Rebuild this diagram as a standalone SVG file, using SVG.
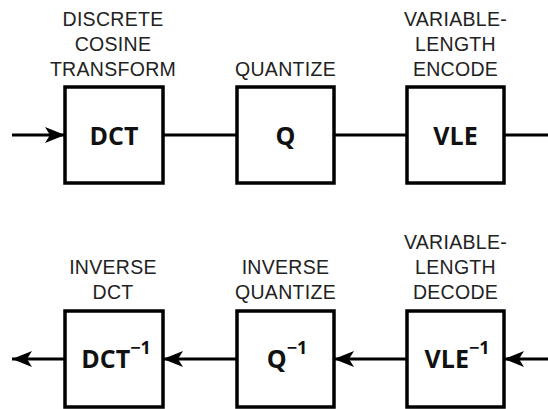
<svg xmlns="http://www.w3.org/2000/svg" width="548" height="409" viewBox="0 0 548 409">
<defs>
<marker id="ah" viewBox="0 0 20 16" refX="20" refY="8" markerWidth="20" markerHeight="16" markerUnits="userSpaceOnUse" orient="auto">
<path d="M0,0 L20,8 L0,16 L5,8 Z" fill="#000"/>
</marker>
<style>
.box{fill:#fff;stroke:#000;stroke-width:3.5}
.ln{stroke:#000;stroke-width:3;fill:none}
.lbl{font-family:"Liberation Sans",Arial,sans-serif;font-size:19.5px;letter-spacing:0.3px;fill:#222;text-anchor:middle}
.bt{font-family:"Open Sans","Liberation Sans",sans-serif;font-size:25px;font-weight:bold;fill:#111;text-anchor:middle}
.sup{font-size:18px}
</style>
</defs>
<rect width="548" height="409" fill="#fff"/>
<g id="connectors">
<line class="ln" x1="12" y1="135" x2="65" y2="135" marker-end="url(#ah)"/>
<line class="ln" x1="163" y1="135" x2="237" y2="135"/>
<line class="ln" x1="334" y1="135" x2="407" y2="135"/>
<line class="ln" x1="504" y1="135" x2="548" y2="135"/>
<line class="ln" x1="548" y1="359" x2="504" y2="359" marker-end="url(#ah)"/>
<line class="ln" x1="407" y1="359" x2="334" y2="359" marker-end="url(#ah)"/>
<line class="ln" x1="237" y1="359" x2="163" y2="359" marker-end="url(#ah)"/>
<line class="ln" x1="65" y1="359" x2="12" y2="359" marker-end="url(#ah)"/>
</g>
<g id="dct">
<text class="lbl" x="113" y="26">DISCRETE</text>
<text class="lbl" x="113" y="51">COSINE</text>
<text class="lbl" x="113" y="76">TRANSFORM</text>
<rect class="box" x="65" y="87" width="98" height="96"/>
<text class="bt" x="114" y="145">DCT</text>
</g>
<g id="q">
<text class="lbl" x="285.5" y="76">QUANTIZE</text>
<rect class="box" x="237" y="87" width="97" height="96"/>
<text class="bt" x="285.5" y="145">Q</text>
</g>
<g id="vle">
<text class="lbl" x="455.5" y="26">VARIABLE-</text>
<text class="lbl" x="455.5" y="51">LENGTH</text>
<text class="lbl" x="455.5" y="76">ENCODE</text>
<rect class="box" x="407" y="87" width="97" height="96"/>
<text class="bt" x="455.5" y="145">VLE</text>
</g>
<g id="idct">
<text class="lbl" x="113" y="274">INVERSE</text>
<text class="lbl" x="113" y="299">DCT</text>
<rect class="box" x="65" y="311" width="98" height="96"/>
<text class="bt" x="116" y="368">DCT<tspan class="sup" dy="-14">−1</tspan></text>
</g>
<g id="iq">
<text class="lbl" x="285.5" y="274">INVERSE</text>
<text class="lbl" x="285.5" y="299">QUANTIZE</text>
<rect class="box" x="237" y="311" width="97" height="96"/>
<text class="bt" x="287" y="368">Q<tspan class="sup" dy="-14">−1</tspan></text>
</g>
<g id="vld">
<text class="lbl" x="455.5" y="249">VARIABLE-</text>
<text class="lbl" x="455.5" y="274">LENGTH</text>
<text class="lbl" x="455.5" y="299">DECODE</text>
<rect class="box" x="407" y="311" width="97" height="96"/>
<text class="bt" x="457" y="368">VLE<tspan class="sup" dy="-14">−1</tspan></text>
</g>
</svg>
